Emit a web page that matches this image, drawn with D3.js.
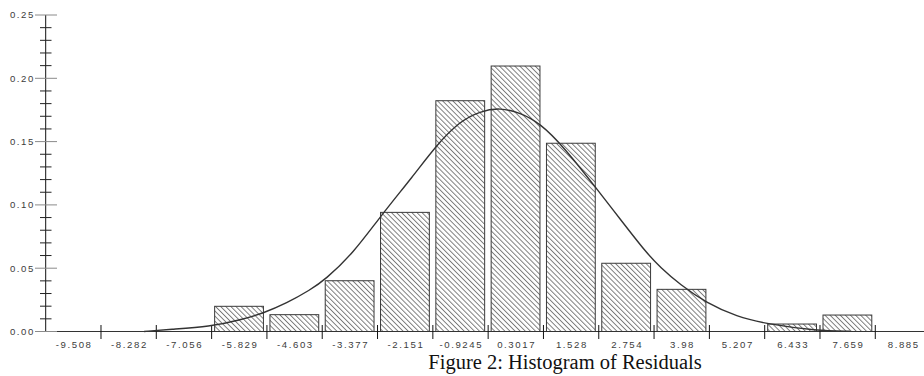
<!DOCTYPE html>
<html>
<head>
<meta charset="utf-8">
<script src="https://cdn.jsdelivr.net/npm/d3@7"></script>
<style>
  html, body { margin: 0; padding: 0; background: #fff; }
  svg { display: block; }
</style>
</head>
<body>
<svg id="chart" width="924" height="376"></svg>
<script>
// ---- data ----
const binLabels = ["-9.508","-8.282","-7.056","-5.829","-4.603","-3.377","-2.151","-0.9245","0.3017","1.528","2.754","3.98","5.207","6.433","7.659","8.885"];
const binCenters = [-9.508,-8.282,-7.056,-5.829,-4.603,-3.377,-2.151,-0.9245,0.3017,1.528,2.754,3.98,5.207,6.433,7.659,8.885];
const binDensity = [0,0,0,0.0199,0.0133,0.0401,0.0941,0.1823,0.2097,0.1487,0.0539,0.0333,0,0.0059,0.0130,0];
// fitted normal curve
const curveX = [-7.94,-7.37,-6.48,-5.81,-5.30,-4.78,-4.26,-3.93,-3.30,-2.71,-1.97,-1.45,-0.94,-0.49,-0.05,0.40,0.84,1.36,2.06,2.61,3.21,3.50,3.94,4.54,5.20,5.87,6.97,7.71];
const curveY = [0.0,0.0017,0.0038,0.0091,0.0144,0.0223,0.0328,0.0407,0.0620,0.0905,0.1230,0.1475,0.1660,0.1740,0.1768,0.1728,0.1645,0.1460,0.1144,0.0890,0.0615,0.0510,0.0370,0.0223,0.0117,0.0059,0.0006,0.0002];
const yMajorTicks = [0,0.05,0.10,0.15,0.20,0.25];
const yMinorTicks = [0.01,0.02,0.03,0.04,0.06,0.07,0.08,0.09,0.11,0.12,0.13,0.14,0.16,0.17,0.18,0.19,0.21,0.22,0.23,0.24];
const caption = "Figure 2: Histogram of Residuals";

// ---- layout ----
const binW = (binCenters[binCenters.length-1] - binCenters[0]) / (binCenters.length - 1);
const edges = binCenters.map(c => c - binW/2).concat([binCenters[binCenters.length-1] + binW/2]);
const svg = d3.select("#chart");
const x = d3.scaleLinear().domain([edges[0], edges[edges.length-1]]).range([45.7, 930.6]);
const y = d3.scaleLinear().domain([0, 0.25]).range([331.5, 15]);

// hatch pattern
const defs = svg.append("defs");
const pat = defs.append("pattern")
  .attr("id", "hatch").attr("patternUnits", "userSpaceOnUse")
  .attr("width", 3.6).attr("height", 10)
  .attr("patternTransform", "rotate(-45)");
pat.append("line").attr("x1", 0.5).attr("y1", 0).attr("x2", 0.5).attr("y2", 10)
  .attr("stroke", "#6a6a6a").attr("stroke-width", 0.9);

// bars
const bins = binCenters.map((c, i) => ({ lo: edges[i], hi: edges[i+1], v: binDensity[i] })).filter(d => d.v > 0);
svg.append("g").selectAll("rect").data(bins).join("rect")
  .attr("x", d => x(d.lo) + 3)
  .attr("y", d => y(d.v))
  .attr("width", d => x(d.hi) - x(d.lo) - 6.5)
  .attr("height", d => y(0) - y(d.v))
  .attr("fill", "url(#hatch)")
  .attr("stroke", "#3a3a3a").attr("stroke-width", 1);

// x axis baseline + ticks at bin edges
const xAxis = svg.append("g").attr("transform", `translate(0,${y(0)})`);
xAxis.append("line").attr("x1", x(edges[0])).attr("x2", 924).attr("y1", 0).attr("y2", 0)
  .attr("stroke", "#333").attr("stroke-width", 1);
xAxis.selectAll("line.tk").data(edges.slice(1, edges.length-1)).join("line")
  .attr("class", "tk")
  .attr("x1", d => x(d)).attr("x2", d => x(d))
  .attr("y1", -6.5).attr("y2", 7.5)
  .attr("stroke", "#111").attr("stroke-width", 1);
xAxis.selectAll("text").data(binCenters).join("text")
  .attr("x", (d) => x(d) + 0.8)
  .attr("y", 16)
  .attr("text-anchor", "middle")
  .attr("font-family", "Liberation Sans, Arial, sans-serif")
  .attr("font-size", 9.6)
  .attr("letter-spacing", 1.6)
  .attr("fill", "#3c3c3c")
  .text((d, i) => binLabels[i]);

// y axis
const yAxis = svg.append("g");
yAxis.append("line").attr("x1", 45.7).attr("x2", 45.7).attr("y1", y(0.25)).attr("y2", y(0))
  .attr("stroke", "#111").attr("stroke-width", 1);
yAxis.selectAll("line.minor").data(yMinorTicks).join("line")
  .attr("class", "minor")
  .attr("x1", 40).attr("x2", 51.5)
  .attr("y1", d => y(d)).attr("y2", d => y(d))
  .attr("stroke", "#222").attr("stroke-width", 1);
yAxis.selectAll("line.major").data(yMajorTicks).join("line")
  .attr("class", "major")
  .attr("x1", 35).attr("x2", 57)
  .attr("y1", d => y(d)).attr("y2", d => y(d))
  .attr("stroke", "#8a8a8a").attr("stroke-width", 1);
yAxis.selectAll("text").data(yMajorTicks).join("text")
  .attr("x", 35)
  .attr("y", d => y(d) + 3.3)
  .attr("text-anchor", "end")
  .attr("font-family", "Liberation Sans, Arial, sans-serif")
  .attr("font-size", 9.6)
  .attr("letter-spacing", 1.6)
  .attr("fill", "#3c3c3c")
  .text(d => d3.format(".2f")(d));

// fitted curve
const pts = curveX.map((v, i) => [v, curveY[i]]);
svg.append("path").datum(pts)
  .attr("d", d3.line().x(d => x(d[0])).y(d => y(d[1])).curve(d3.curveBasis))
  .attr("fill", "none").attr("stroke", "#333").attr("stroke-width", 1.4);

// caption
svg.append("text")
  .attr("x", 565).attr("y", 369)
  .attr("text-anchor", "middle")
  .attr("font-family", "Liberation Serif, Times New Roman, serif")
  .attr("font-size", 20.5)
  .attr("fill", "#111")
  .text(caption);
</script>
</body>
</html>
